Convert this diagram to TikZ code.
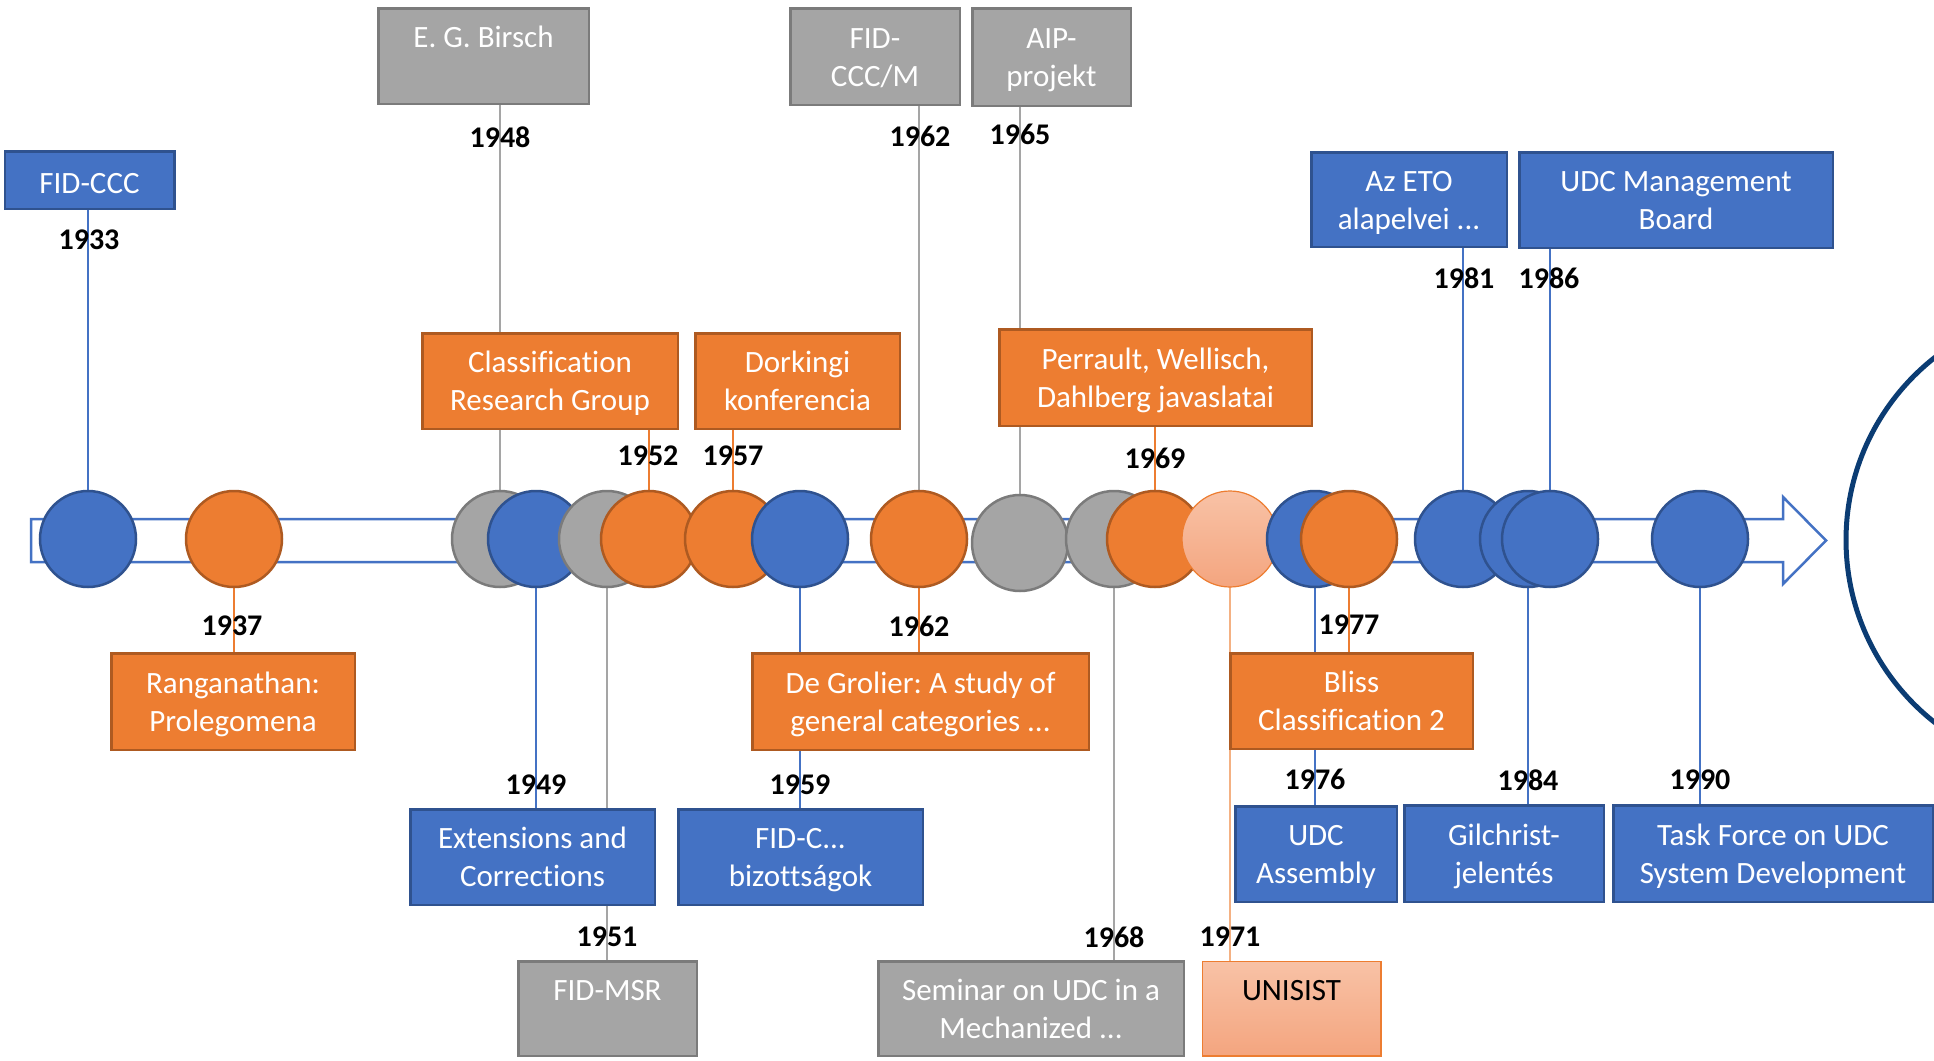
\documentclass[tikz,border=0pt]{standalone}
\usepackage{fontspec}
\setmainfont{Carlito}[Ligatures=NoCommon]
\frenchspacing
\pgfdeclarelayer{bg}
\pgfdeclarelayer{lines}
\pgfsetlayers{bg,lines,main}
\definecolor{cblue}{HTML}{4472C4}
\definecolor{cblueD}{HTML}{2F528F}
\definecolor{corange}{HTML}{ED7D31}
\definecolor{corangeD}{HTML}{AE5A21}
\definecolor{cgray}{HTML}{A5A5A5}
\definecolor{cgrayD}{HTML}{7B7B7B}
\definecolor{clightT}{HTML}{F8C2A6}
\definecolor{clightB}{HTML}{F4A57F}
\definecolor{clightL}{HTML}{F4B183}
\definecolor{cbig}{HTML}{0B3C73}
\newcommand{\fs}{\rule{0pt}{32.6pt}}
\newcommand{\tlbox}[7]{\node[#1, minimum width={#5-#3-2.5}, minimum height={#6-#4-2.5}] (#2) at ({(#3+#5)/2},{(#4+#6)/2}) {#7};}
\begin{document}
\begin{tikzpicture}[x=1pt,y=-1pt,
  box/.style={draw, line width=2.5pt, inner sep=0pt, align=center, text=white, font=\fontsize{31}{38}\selectfont},
  bluebox/.style={box, fill=cblue, draw=cblueD},
  orangebox/.style={box, fill=corange, draw=corangeD},
  graybox/.style={box, fill=cgray, draw=cgrayD},
  lightbox/.style={box, top color=clightT, bottom color=clightB, draw=corange, line width=1.5pt, text=black},
  yr/.style={font=\fontsize{30}{36}\selectfont\bfseries, inner sep=0pt, text=black},
  dot/.style={circle, minimum size=96pt, inner sep=0pt, line width=2.5pt},
  bdot/.style={dot, fill=cblue, draw=cblueD},
  odot/.style={dot, fill=corange, draw=corangeD},
  gdot/.style={dot, fill=cgray, draw=cgrayD},
  ldot/.style={dot, top color=clightT, bottom color=clightB, draw=corange, line width=1.2pt},
  conn/.style={line width=1.3pt}]
\useasboundingbox (0,0) rectangle (1934,1060);

% background and timeline arrow
\begin{pgfonlayer}{bg}
\fill[white] (0,0) rectangle (1934,1060);
\draw[cblue, line width=2.5pt, fill=white, line join=miter]
  (31,519) -- (1783,519) -- (1783,497) -- (1826,540.5) -- (1783,584) -- (1783,562) -- (31,562) -- cycle;
\end{pgfonlayer}

% big circle at right
\begin{scope}
\clip (0,0) rectangle (1934,1060);
\draw[cbig, line width=5pt] (2078,540) circle[radius=232];
\end{scope}

% boxes
\tlbox{bluebox}{b1933}{3.5}{150}{175.5}{210}{\rule{0pt}{28pt}FID-CCC}
\tlbox{graybox}{b1948}{377}{7}{590}{105}{\fs E. G. Birsch\\\strut}
\tlbox{graybox}{b1962t}{789}{7}{961}{106}{\fs FID-\\\strut CCC/M}
\tlbox{graybox}{b1965}{971}{7}{1132}{107}{\fs AIP-\\\strut projekt}
\tlbox{orangebox}{b1952}{421}{332}{679}{430}{\fs Classification\\\strut Research Group}
\tlbox{orangebox}{b1957}{694}{332}{901}{430}{\fs Dorkingi\\\strut konferencia}
\tlbox{orangebox}{b1969}{998}{328}{1313}{427}{\fs Perrault, Wellisch,\\\strut Dahlberg javaslatai}
\tlbox{bluebox}{b1981}{1310}{151}{1508}{248}{\fs Az ETO\\\strut alapelvei ...}
\tlbox{bluebox}{b1986}{1518}{151}{1834}{249}{\fs UDC Management\\\strut Board}
\tlbox{orangebox}{b1937}{110}{652}{356}{751}{\fs Ranganathan:\\\strut Prolegomena}
\tlbox{bluebox}{b1949}{409}{808}{656}{906}{\fs Extensions and\\\strut Corrections}
\tlbox{graybox}{b1951}{517}{960}{698}{1057}{\fs FID-MSR\\\strut}
\tlbox{orangebox}{b1962b}{751}{652}{1090}{751}{\fs De Grolier: A study of\\\strut general categories ...}
\tlbox{bluebox}{b1959}{677}{808}{924}{906}{\fs FID-C...\\\strut bizottságok}
\tlbox{graybox}{b1968}{877}{960}{1185}{1057}{\fs Seminar on UDC in a\\\strut Mechanized ...}
\tlbox{lightbox}{b1971}{1201}{960}{1382}{1057}{\fs UNISIST\\\strut}
\tlbox{orangebox}{b1977}{1229}{652}{1474}{750}{\fs Bliss\\\strut Classification 2}
\tlbox{bluebox}{b1976}{1234}{805}{1398}{903}{\fs UDC\\\strut Assembly}
\tlbox{bluebox}{b1984}{1403}{804}{1605}{903}{\fs Gilchrist-\\\strut jelentés}
\tlbox{bluebox}{b1990}{1612}{804}{1934}{903}{\fs Task Force on UDC\\\strut System Development}

% circles (drawing order gives overlaps)
\node[bdot] (c1933) at (88,539) {};
\node[odot] (c1937) at (234,539) {};
\node[gdot] (c1948) at (500,539) {};
\node[bdot] (c1949) at (536,539) {};
\node[gdot] (c1951) at (607,539) {};
\node[odot] (c1952) at (649,539) {};
\node[odot] (c1957) at (733,539) {};
\node[bdot] (c1959) at (800,539) {};
\node[odot] (c1962) at (919,539) {};
\node[gdot] (c1965) at (1020,543) {};
\node[gdot] (c1968) at (1114,539) {};
\node[odot] (c1969) at (1155,539) {};
\node[ldot] (c1971) at (1230,539) {};
\node[bdot] (c1976) at (1315,539) {};
\node[odot] (c1977) at (1349,539) {};
\node[bdot] (c1981) at (1463,539) {};
\node[bdot] (c1984) at (1528,539) {};
\node[bdot] (c1986) at (1550,539) {};
\node[bdot] (c1990) at (1700,539) {};

% connectors
\begin{pgfonlayer}{lines}
\draw[conn, cblue] (c1933.center) -- (c1933.center |- b1933.south);
\draw[conn, corange] (c1937.center) -- (c1937.center |- b1937.north);
\draw[conn, cgray] (c1948.center) -- (c1948.center |- b1948.south);
\draw[conn, cblue] (c1949.center) -- (c1949.center |- b1949.north);
\draw[conn, cgray] (c1951.center) -- (c1951.center |- b1951.north);
\draw[conn, corange] (c1952.center) -- (c1952.center |- b1952.south);
\draw[conn, corange] (c1957.center) -- (c1957.center |- b1957.south);
\draw[conn, cblue] (c1959.center) -- (c1959.center |- b1959.north);
\draw[conn, cgray] (c1962.center) -- (c1962.center |- b1962t.south);
\draw[conn, corange] (c1962.center) -- (c1962.center |- b1962b.north);
\draw[conn, cgray] (c1965.center) -- (c1965.center |- b1965.south);
\draw[conn, cgray] (c1968.center) -- (c1968.center |- b1968.north);
\draw[conn, corange] (c1969.center) -- (c1969.center |- b1969.south);
\draw[conn, clightL] (c1971.center) -- (c1971.center |- b1971.north);
\draw[conn, cblue] (c1976.center) -- (c1976.center |- b1976.north);
\draw[conn, corange] (c1977.center) -- (c1977.center |- b1977.north);
\draw[conn, cblue] (c1981.center) -- (c1981.center |- b1981.south);
\draw[conn, cblue] (c1984.center) -- (c1984.center |- b1984.north);
\draw[conn, cblue] (c1986.center) -- (c1986.center |- b1986.south);
\draw[conn, cblue] (c1990.center) -- (c1990.center |- b1990.north);
\end{pgfonlayer}

% year labels
\node[yr] (y1933) at (89,240) {1933};
\node[yr] (y1937) at (232,626) {1937};
\node[yr] (y1948) at (500,137) {1948};
\node[yr] (y1949) at (536,785) {1949};
\node[yr] (y1951) at (607,937) {1951};
\node[yr] (y1952) at (648,456) {1952};
\node[yr] (y1957) at (733,456) {1957};
\node[yr] (y1959) at (800,785) {1959};
\node[yr] (y1962t) at (920,136) {1962};
\node[yr] (y1962b) at (919,626) {1962};
\node[yr] (y1965) at (1020,134) {1965};
\node[yr] (y1968) at (1114,937) {1968};
\node[yr] (y1969) at (1155,458) {1969};
\node[yr] (y1971) at (1230,937) {1971};
\node[yr] (y1976) at (1315,779) {1976};
\node[yr] (y1977) at (1349,625) {1977};
\node[yr] (y1981) at (1464,278) {1981};
\node[yr] (y1984) at (1528,780) {1984};
\node[yr] (y1986) at (1549,278) {1986};
\node[yr] (y1990) at (1700,780) {1990};
\end{tikzpicture}
\end{document}
